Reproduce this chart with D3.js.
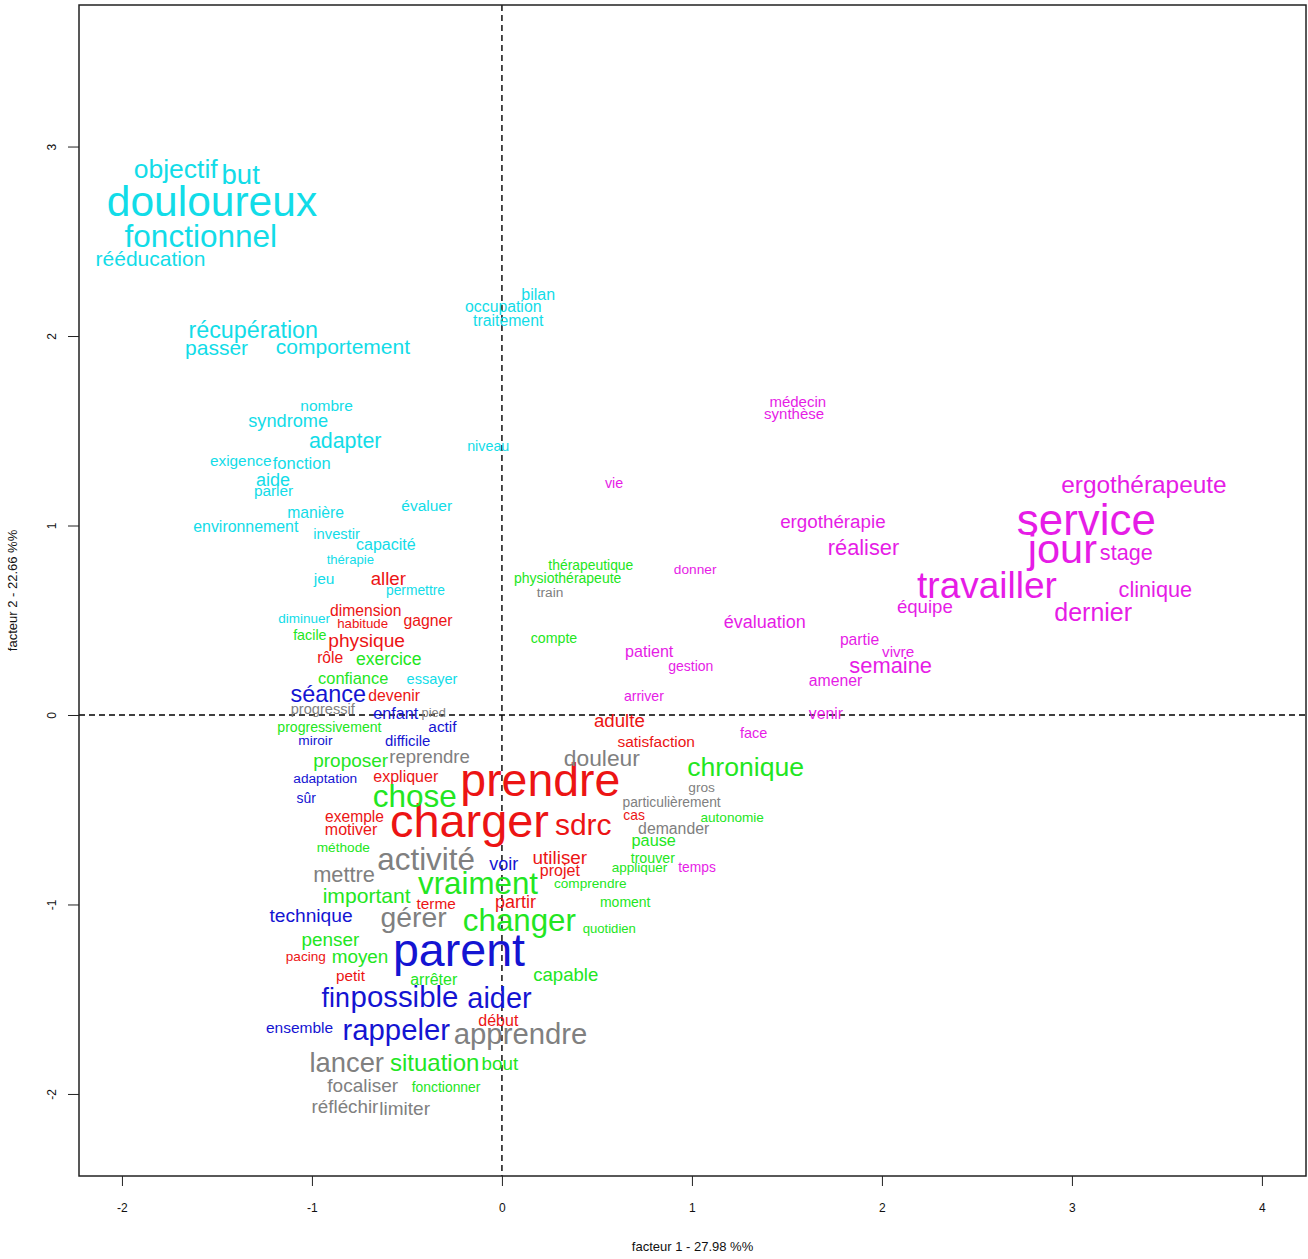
<!DOCTYPE html>
<html>
<head>
<meta charset="utf-8">
<script src="https://cdn.jsdelivr.net/npm/d3@7"></script>
<style>
  body { margin: 0; background: #fff; }
  svg { display: block; font-family: "Liberation Sans", Arial, sans-serif; }
</style>
</head>
<body>
<svg id="chart" width="1308" height="1259"></svg>
<script>
// ---------- data ----------
const classNames = ["cyan", "magenta", "red", "green", "blue", "gray"];
const classColors = ["#12dce8", "#e61ce6", "#ec1414", "#22e622", "#1414d2", "#808080"];

const words = [
  "objectif","but","douloureux","fonctionnel","rééducation","récupération","passer","comportement",
  "bilan","occupation","traitement","niveau","nombre","syndrome","adapter","exigence","fonction",
  "aide","parler","manière","évaluer","environnement","investir","capacité","thérapie","jeu",
  "permettre","diminuer","essayer",
  "aller","dimension","habitude","gagner","physique","rôle","devenir","adulte","satisfaction",
  "expliquer","prendre","cas","exemple","motiver","charger","sdrc","utiliser","projet","terme",
  "partir","pacing","petit","début",
  "thérapeutique","physiothérapeute","compte","facile","exercice","confiance","progressivement",
  "proposer","chose","chronique","autonomie","pause","méthode","important","vraiment","trouver",
  "appliquer","comprendre","moment","changer","quotidien","penser","moyen","arrêter","capable",
  "situation","bout","fonctionner",
  "séance","enfant","actif","miroir","difficile","adaptation","sûr","voir","technique","parent",
  "fin","possible","aider","ensemble","rappeler",
  "train","progressif","pied","reprendre","douleur","gros","particulièrement","demander",
  "activité","mettre","gérer","apprendre","lancer","focaliser","réfléchir","limiter",
  "médecin","synthèse","vie","ergothérapeute","ergothérapie","service","réaliser","jour","stage",
  "donner","travailler","clinique","équipe","dernier","évaluation","patient","partie","vivre",
  "gestion","semaine","amener","arriver","venir","face","temps"
];

// factor 1 coordinates
const factor1 = [
  -1.717,-1.375,-1.526,-1.585,-1.850,-1.309,-1.502,-0.837,
  0.191,0.007,0.033,-0.072,-0.923,-1.125,-0.825,-1.375,-1.054,
  -1.205,-1.202,-0.981,-0.396,-1.348,-0.870,-0.611,-0.798,-0.936,
  -0.455,-1.041,-0.368,
  -0.598,-0.717,-0.733,-0.389,-0.712,-0.904,-0.567,0.618,0.812,
  -0.506,0.202,0.696,-0.776,-0.794,-0.171,0.428,0.305,0.305,-0.346,
  0.071,-1.032,-0.797,-0.019,
  0.468,0.346,0.274,-1.011,-0.596,-0.783,-0.908,
  -0.796,-0.459,1.283,1.212,0.799,-0.835,-0.712,-0.126,0.794,
  0.724,0.465,0.649,0.092,0.565,-0.903,-0.747,-0.359,0.336,
  -0.354,-0.011,-0.294,
  -0.914,-0.559,-0.313,-0.982,-0.496,-0.930,-1.030,0.009,-1.005,-0.226,
  -0.875,-0.513,-0.013,-1.065,-0.556,
  0.253,-0.943,-0.359,-0.381,0.526,1.051,0.893,0.904,
  -0.399,-0.831,-0.465,0.098,-0.817,-0.733,-0.826,-0.512,
  1.557,1.538,0.590,3.379,1.742,3.076,1.903,2.950,3.286,
  1.017,2.553,3.439,2.226,3.112,1.383,0.775,1.882,2.085,
  0.994,2.046,1.756,0.747,1.705,1.325,1.027
];

// factor 2 coordinates
const factor2 = [
  2.885,2.852,2.713,2.531,2.409,2.035,1.940,1.944,
  2.218,2.157,2.081,1.421,1.634,1.553,1.448,1.342,1.331,
  1.243,1.185,1.068,1.106,0.996,0.959,0.901,0.820,0.720,
  0.660,0.510,0.191,
  0.721,0.552,0.483,0.500,0.394,0.306,0.106,-0.028,-0.140,
  -0.323,-0.339,-0.528,-0.534,-0.605,-0.553,-0.576,-0.750,-0.821,-0.994,
  -0.986,-1.273,-1.376,-1.613,
  0.791,0.721,0.405,0.423,0.297,0.195,-0.061,
  -0.237,-0.424,-0.272,-0.537,-0.658,-0.696,-0.950,-0.884,-0.754,
  -0.801,-0.889,-0.985,-1.078,-1.124,-1.183,-1.271,-1.397,-1.367,
  -1.832,-1.838,-1.961,
  0.115,0.011,-0.062,-0.132,-0.136,-0.331,-0.436,-0.784,-1.054,-1.236,
  -1.489,-1.483,-1.493,-1.647,-1.660,
  0.649,0.033,0.015,-0.220,-0.226,-0.379,-0.458,-0.596,
  -0.757,-0.838,-1.063,-1.681,-1.830,-1.952,-2.066,-2.077,
  1.654,1.593,1.223,1.216,1.021,1.033,0.885,0.879,0.859,
  0.770,0.686,0.662,0.572,0.545,0.492,0.335,0.397,0.337,
  0.260,0.262,0.185,0.102,0.011,-0.093,-0.801
];

// relative weight of each word (drives label size)
const weights = [
  26.5,27.5,42.5,31.5,21,23.3,21,21,
  16,15.8,15.8,14.3,15.5,18.2,21.4,15.4,16.5,
  18,15.4,15.7,15.5,15.9,14.7,16,13.1,15.5,
  13.8,13.5,14.5,
  18.7,15.7,13.3,15.8,19.2,15.6,15.8,18.7,15.5,
  16,46.4,13.9,15.6,16,46.9,30,18.9,16,15.4,
  18,13.6,15.3,16,
  13.9,14,14.2,14.3,17.6,16.4,14.1,
  19,31.5,26.6,13.6,16.3,13.7,21.1,31.3,14.2,
  13.5,13.6,14,31.3,13.1,18.9,18.9,16,18.6,
  24,18.8,13.9,
  23.4,16.2,15.4,13.7,14.9,13.7,13.9,18,19.2,46.6,
  26.8,29.4,28.9,15.5,29.3,
  13.7,14.6,12.9,18.6,22.8,13.7,13.8,15.8,
  31.4,21.8,28.3,29.3,27.4,19,18.8,19,
  15,15,14.3,24.4,18.8,43.9,21.8,41.5,21.6,
  13.7,37,21.7,18.6,25,18,16.1,15.7,15.2,
  14,21.9,15.8,14.1,15.7,14.5,13.8
];

// class index of each word (0 cyan,1 magenta,2 red,3 green,4 blue,5 gray)
const wordClass = [
  0,0,0,0,0,0,0,0,
  0,0,0,0,0,0,0,0,0,
  0,0,0,0,0,0,0,0,0,
  0,0,0,
  2,2,2,2,2,2,2,2,2,
  2,2,2,2,2,2,2,2,2,2,
  2,2,2,2,
  3,3,3,3,3,3,3,
  3,3,3,3,3,3,3,3,3,
  3,3,3,3,3,3,3,3,3,
  3,3,3,
  4,4,4,4,4,4,4,4,4,4,
  4,4,4,4,4,
  5,5,5,5,5,5,5,5,
  5,5,5,5,5,5,5,5,
  1,1,1,1,1,1,1,1,1,
  1,1,1,1,1,1,1,1,1,
  1,1,1,1,1,1,1
];

const xTicks = [-2, -1, 0, 1, 2, 3, 4];
const yTicks = [-2, -1, 0, 1, 2, 3];
const xTitle = "facteur 1 - 27.98 %%";
const yTitle = "facteur 2 - 22.66 %%";

// ---------- drawing ----------
const svg = d3.select("#chart");
const box = { left: 79, right: 1306, top: 5, bottom: 1176 };

const x = d3.scaleLinear().domain([-2.226, 4.232]).range([box.left, box.right]);
const y = d3.scaleLinear().domain([-2.433, 3.747]).range([box.bottom, box.top]);
const fontSize = d3.scaleLinear().domain([10, 50]).range([10, 50]);
const fmt = d => String(d);

// reference lines at 0
svg.append("line")
  .attr("x1", x(0)).attr("x2", x(0))
  .attr("y1", box.top).attr("y2", box.bottom)
  .attr("stroke", "#000").attr("stroke-width", 1.4).attr("stroke-dasharray", "6,4");
svg.append("line")
  .attr("x1", box.left).attr("x2", box.right)
  .attr("y1", y(0)).attr("y2", y(0))
  .attr("stroke", "#000").attr("stroke-width", 1.4).attr("stroke-dasharray", "6,4");

// words
const data = words.map((w, i) => ({ w, fx: factor1[i], fy: factor2[i], s: weights[i], c: wordClass[i] }));
svg.append("g").selectAll("text")
  .data(data)
  .join("text")
  .attr("x", d => x(d.fx))
  .attr("y", d => y(d.fy))
  .attr("dy", "0.36em")
  .attr("text-anchor", "middle")
  .attr("font-size", d => fontSize(d.s))
  .attr("fill", d => classColors[d.c])
  .text(d => d.w);

// box
svg.append("rect")
  .attr("x", box.left).attr("y", box.top)
  .attr("width", box.right - box.left).attr("height", box.bottom - box.top)
  .attr("fill", "none").attr("stroke", "#222").attr("stroke-width", 1.5);

// x axis
const gx = svg.append("g")
  .attr("transform", `translate(0,${box.bottom})`)
  .call(d3.axisBottom(x).tickValues(xTicks).tickSize(10).tickPadding(17).tickFormat(fmt));
gx.select(".domain").remove();
gx.selectAll("text").attr("font-size", 12).attr("fill", "#111").attr("font-family", "Liberation Sans, Arial, sans-serif");
gx.selectAll("line").attr("stroke", "#222");

// y axis
const gy = svg.append("g")
  .attr("transform", `translate(${box.left},0)`)
  .call(d3.axisLeft(y).tickValues(yTicks).tickSize(11).tickFormat(fmt));
gy.select(".domain").remove();
gy.selectAll("line").attr("stroke", "#222");
gy.selectAll("text")
  .attr("transform", "rotate(-90)")
  .attr("x", 0).attr("y", -23).attr("dy", 0)
  .attr("text-anchor", "middle")
  .attr("font-size", 12).attr("fill", "#111")
  .attr("font-family", "Liberation Sans, Arial, sans-serif");

// axis titles
svg.append("text")
  .attr("x", (box.left + box.right) / 2).attr("y", 1251)
  .attr("text-anchor", "middle").attr("font-size", 13).attr("fill", "#111")
  .text(xTitle);
svg.append("text")
  .attr("transform", `translate(17,${(box.top + box.bottom) / 2}) rotate(-90)`)
  .attr("text-anchor", "middle").attr("font-size", 13).attr("fill", "#111")
  .text(yTitle);
</script>
</body>
</html>
